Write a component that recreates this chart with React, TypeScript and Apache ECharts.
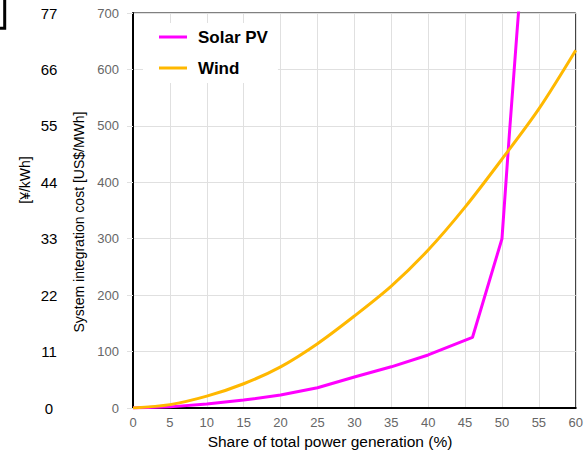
import React, { useEffect, useRef } from "react";
import * as echarts from "echarts";

// Share of total power generation (%)
const shareSolar = [0, 5, 10, 15, 20, 25, 30, 35, 40, 46, 50, 51, 52, 53];
const costSolar = [0, 2, 7, 14, 23, 36, 55, 73, 94, 125, 300, 485, 660, 830];

const shareWind = [0, 5, 10, 15, 20, 25, 30, 35, 40, 45, 50, 55, 60];
const costWind = [0, 6, 21, 43, 73, 114, 163, 216, 280, 356, 441, 530, 634];

const seriesNames = ["Solar PV", "Wind"];
const seriesColors = ["#ff00ff", "#ffb800"];

const usdAxis = { min: 0, max: 700, interval: 100 };
const yenAxis = { min: 0, max: 77, interval: 11 };
const shareAxis = { min: 0, max: 60, interval: 5 };

const xTitle = "Share of total power generation (%)";
const usdTitle = "System integration cost [US$/MWh]";
const yenTitle = "[¥/kWh]";

const FONT = "Liberation Sans, Arial, sans-serif";

export default function App() {
  const ref = useRef<HTMLDivElement>(null);

  useEffect(() => {
    if (!ref.current) return;
    const chart = echarts.init(ref.current, undefined, { renderer: "svg" });

    const pairs = (xs: number[], ys: number[]) => xs.map((x, i) => [x, ys[i]]);

    chart.setOption({
      animation: false,
      textStyle: { fontFamily: FONT },
      grid: {
        left: 133,
        top: 13,
        width: 444,
        height: 395,
        show: true,
        borderColor: "#000",
        borderWidth: 1,
        backgroundColor: "transparent",
      },
      legend: {
        orient: "vertical",
        left: 143,
        top: 23,
        padding: [4, 10, 5, 16],
        backgroundColor: "#fff",
        icon: "rect",
        itemWidth: 28,
        itemHeight: 3,
        itemGap: 11,
        textStyle: {
          fontFamily: FONT,
          fontSize: 17,
          fontWeight: "bold",
          color: "#000",
          lineHeight: 20,
          padding: [0, 0, 0, 6],
        },
        data: seriesNames,
      },
      xAxis: {
        type: "value",
        min: shareAxis.min,
        max: shareAxis.max,
        interval: shareAxis.interval,
        axisLine: { show: true, lineStyle: { color: "#000", width: 2 } },
        axisTick: { show: false },
        axisLabel: { color: "#666", fontSize: 13, margin: 8, fontFamily: FONT },
        splitLine: { show: true, lineStyle: { color: "#e0e0e0", width: 1 } },
      },
      yAxis: [
        {
          type: "value",
          position: "left",
          min: usdAxis.min,
          max: usdAxis.max,
          interval: usdAxis.interval,
          axisLine: { show: true, lineStyle: { color: "#000", width: 2 } },
          axisTick: { show: true, length: 6, lineStyle: { color: "#e0e0e0" } },
          axisLabel: { color: "#666", fontSize: 13, margin: 14, fontFamily: FONT },
          splitLine: { show: true, lineStyle: { color: "#e0e0e0", width: 1 } },
        },
        {
          type: "value",
          position: "left",
          offset: 76,
          min: yenAxis.min,
          max: yenAxis.max,
          interval: yenAxis.interval,
          axisLine: { show: false },
          axisTick: { show: false },
          splitLine: { show: false },
          axisLabel: {
            color: "#000",
            fontSize: 15,
            margin: 8,
            align: "center",
            fontFamily: FONT,
          },
        },
      ],
      series: [
        {
          name: seriesNames[0],
          type: "line",
          yAxisIndex: 0,
          data: pairs(shareSolar, costSolar),
          showSymbol: false,
          clip: true,
          lineStyle: { color: seriesColors[0], width: 3 },
          itemStyle: { color: seriesColors[0] },
        },
        {
          name: seriesNames[1],
          type: "line",
          yAxisIndex: 0,
          data: pairs(shareWind, costWind),
          showSymbol: false,
          smooth: 0.3,
          clip: true,
          lineStyle: { color: seriesColors[1], width: 3 },
          itemStyle: { color: seriesColors[1] },
        },
      ],
      graphic: [
        {
          type: "rect",
          shape: { x: -20, y: -20, width: 24.7, height: 48.3 },
          style: { fill: "none", stroke: "#000", lineWidth: 3 },
        },
        {
          type: "text",
          x: 330,
          y: 441,
          style: {
            text: xTitle,
            fontFamily: FONT,
            fontSize: 15.5,
            fill: "#000",
            textAlign: "center",
            textVerticalAlign: "middle",
          },
        },
        {
          type: "text",
          x: 79,
          y: 222,
          rotation: Math.PI / 2,
          style: {
            text: usdTitle,
            fontFamily: FONT,
            fontSize: 14,
            fill: "#000",
            textAlign: "center",
            textVerticalAlign: "middle",
          },
        },
        {
          type: "text",
          x: 25,
          y: 180,
          rotation: Math.PI / 2,
          style: {
            text: yenTitle,
            fontFamily: FONT,
            fontSize: 14,
            fill: "#000",
            textAlign: "center",
            textVerticalAlign: "middle",
          },
        },
      ],
    });

    return () => chart.dispose();
  }, []);

  return (
    <div
      ref={ref}
      style={{ position: "absolute", left: 0, top: 0, width: 586, height: 451, background: "#fff" }}
    />
  );
}
